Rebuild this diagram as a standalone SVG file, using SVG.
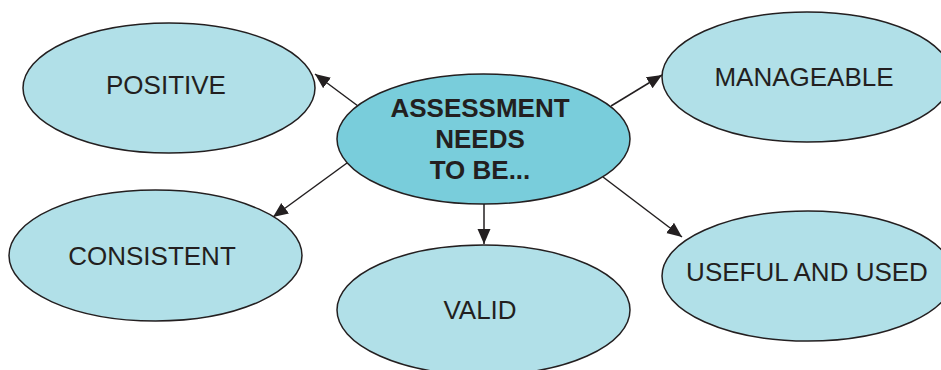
<svg xmlns="http://www.w3.org/2000/svg" width="941" height="370" viewBox="0 0 941 370">
<style>
.node{fill:#b1e0e8;stroke:#231f20;stroke-width:1.5}
.hub{fill:#79cddb;stroke:#231f20;stroke-width:1.5}
.lbl{font-family:"Liberation Sans",Arial,sans-serif;font-size:26px;fill:#231f20;text-anchor:middle}
.bold{font-weight:bold}
.edge{stroke:#231f20;stroke-width:1.5;fill:none;marker-end:url(#ah)}
</style>
<defs>
<marker id="ah" markerUnits="userSpaceOnUse" markerWidth="16" markerHeight="14" refX="15" refY="6.5" orient="auto">
<path d="M0,0 L15,6.5 L0,13 Z" fill="#231f20"/>
</marker>
</defs>
<rect width="941" height="370" fill="#ffffff"/>
<g id="connectors">
<line class="edge" x1="358" y1="106" x2="315" y2="74"/>
<line class="edge" x1="611" y1="106" x2="662" y2="75"/>
<line class="edge" x1="347" y1="163" x2="273" y2="217"/>
<line class="edge" x1="484" y1="204" x2="484" y2="244"/>
<line class="edge" x1="603" y1="177" x2="682" y2="237"/>
</g>
<g id="positive">
<ellipse class="node" cx="169" cy="88" rx="146" ry="65"/>
<text class="lbl" x="166" y="94">POSITIVE</text>
</g>
<g id="manageable">
<ellipse class="node" cx="807" cy="77" rx="145" ry="65"/>
<text class="lbl" x="804" y="86">MANAGEABLE</text>
</g>
<g id="consistent">
<ellipse class="node" cx="155.5" cy="255.5" rx="146.5" ry="65.5"/>
<text class="lbl" x="152" y="265">CONSISTENT</text>
</g>
<g id="valid">
<ellipse class="node" cx="483.5" cy="310" rx="146.5" ry="65"/>
<text class="lbl" x="480" y="319">VALID</text>
</g>
<g id="useful">
<ellipse class="node" cx="808" cy="276" rx="146" ry="65"/>
<text class="lbl" x="807" y="281">USEFUL AND USED</text>
</g>
<g id="assessment">
<ellipse class="hub" cx="483.5" cy="139" rx="146.5" ry="65"/>
<text class="lbl bold" x="480" y="117">ASSESSMENT</text>
<text class="lbl bold" x="480" y="148">NEEDS</text>
<text class="lbl bold" x="480" y="179">TO BE...</text>
</g>
</svg>
